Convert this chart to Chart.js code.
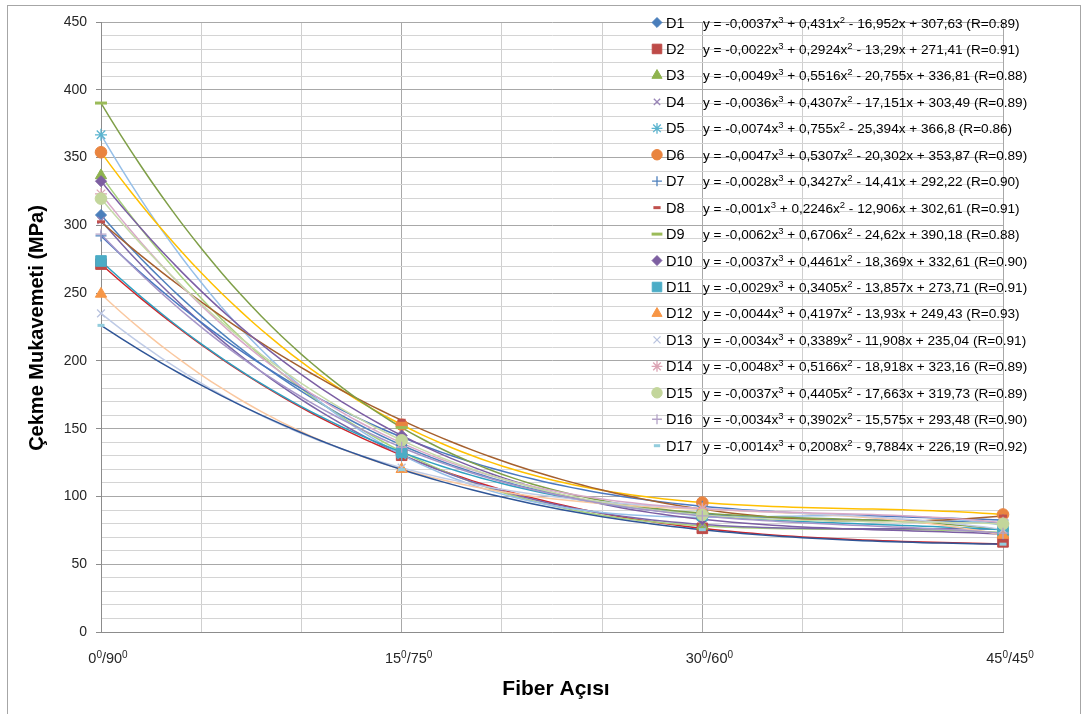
<!DOCTYPE html>
<html>
<head>
<meta charset="utf-8">
<script src="https://cdn.jsdelivr.net/npm/chart.js@4.4.1/dist/chart.umd.min.js"></script>
<style>
  html, body { margin: 0; padding: 0; background: #ffffff; }
  #wrap { width: 1086px; height: 714px; position: relative; }
</style>
</head>
<body>
<div id="wrap"><canvas id="chart" width="1086" height="714"></canvas></div>
<script>
// Fiber angle positions and their axis labels
const angles = [0, 15, 30, 45];
const angleLabels = ['0⁰/90⁰', '15⁰/75⁰', '30⁰/60⁰', '45⁰/45⁰'];
const seriesNames = ['D1','D2','D3','D4','D5','D6','D7','D8','D9','D10','D11','D12','D13','D14','D15','D16','D17'];

// Tensile strength (MPa) measured at each fiber angle
const D1  = [307.6, 137.8, 87.1, 80.4];
const D2  = [271.4, 130.4, 76.5, 66.5];
const D3  = [336.8, 133.1, 78.3, 73.3];
const D4  = [303.5, 131.0, 79.4, 75.8];
const D5  = [366.8, 130.8, 84.7, 78.6];
const D6  = [353.9, 152.9, 95.5, 86.7];
const D7  = [292.2, 143.7, 92.8, 82.6];
const D8  = [302.6, 156.2, 90.6, 85.5];
const D9  = [390.2, 150.8, 87.7, 75.3];
const D10 = [332.6, 145.0, 83.1, 72.2];
const D11 = [273.7, 132.7, 86.2, 75.4];
const D12 = [249.4, 120.1, 90.5, 71.5];
const D13 = [235.0, 121.2, 91.0, 75.6];
const D14 = [323.2, 139.4, 91.0, 80.6];
const D15 = [319.7, 141.4, 86.4, 79.8];
const D16 = [293.5, 136.2, 85.6, 72.9];
const D17 = [226.2, 119.8, 75.5, 64.8];
const seriesValues = [D1, D2, D3, D4, D5, D6, D7, D8, D9, D10, D11, D12, D13, D14, D15, D16, D17];

// Cubic trend line coefficients: y = a3*x^3 + a2*x^2 + a1*x + a0
const fitA3 = [-0.0037, -0.0022, -0.0049, -0.0036, -0.0074, -0.0047, -0.0028, -0.001, -0.0062, -0.0037, -0.0029, -0.0044, -0.0034, -0.0048, -0.0037, -0.0034, -0.0014];
const fitA2 = [0.431, 0.2924, 0.5516, 0.4307, 0.755, 0.5307, 0.3427, 0.2246, 0.6706, 0.4461, 0.3405, 0.4197, 0.3389, 0.5166, 0.4405, 0.3902, 0.2008];
const fitA1 = [-16.952, -13.29, -20.755, -17.151, -25.394, -20.302, -14.41, -12.906, -24.62, -18.369, -13.857, -13.93, -11.908, -18.918, -17.663, -15.575, -9.7884];
const fitA0 = [307.63, 271.41, 336.81, 303.49, 366.8, 353.87, 292.22, 302.61, 390.18, 332.61, 273.71, 249.43, 235.04, 323.16, 319.73, 293.48, 226.19];
const fitR  = ['0.89','0.91','0.88','0.89','0.86','0.89','0.90','0.91','0.88','0.90','0.91','0.93','0.91','0.89','0.89','0.90','0.92'];

// Marker appearance per series
const markerStyles = ['rectRot','rect','triangle','crossRot','star','circle','cross','line','line','rectRot','rect','triangle','crossRot','star','circle','cross','line'];
const markerSizes  = [5.5, 7.5, 6.5, 5, 6, 5.8, 5.5, 4, 6, 5.5, 7.5, 6.5, 5.5, 6, 5.8, 5.5, 3.5];
const markerWidths = [1, 1, 1, 1.3, 1.3, 1, 1.3, 3, 3, 1, 1, 1, 1.3, 1.3, 1, 1.3, 3];
const markerColors = ['#4a7ebb','#be4b48','#8fb34f','#9a86b8','#5ab4cf','#e9843f','#4f81bd','#c0504d','#9bbb59','#7d5fa1','#4bacc6','#f79646','#b9c3df','#dca4b4','#c3d69b','#b3a2c7','#93cddd'];
const trendColors  = ['#4f81bd','#d0252a','#a6d07a','#7a66a8','#96bfe8','#ffc000','#4a78c0','#a5602e','#7f9f48','#7b5ea3','#2fa0c0','#fac8a0','#bfcbe6','#d8a8c8','#c5d9a8','#a595c8','#2f5597'];

const FONT = "'Liberation Sans', Arial, sans-serif";

function fmtNum(v) { return String(v).replace('.', ','); }
function equationText(i) {
  const a1 = fitA1[i];
  return 'y = ' + fmtNum(fitA3[i]) + 'x³ + ' + fmtNum(fitA2[i]) + 'x² ' +
         (a1 < 0 ? '- ' : '+ ') + fmtNum(Math.abs(a1)) + 'x + ' + fmtNum(fitA0[i]) +
         ' (R=' + fitR[i] + ')';
}

// Text with superscript digits drawn as small raised glyphs
const SUP = { '⁰': '0', '¹': '1', '²': '2', '³': '3' };
function richParts(str) {
  const parts = [];
  for (const ch of str) {
    const sup = ch in SUP;
    const t = sup ? SUP[ch] : ch;
    const last = parts[parts.length - 1];
    if (last && last.sup === sup) last.text += t; else parts.push({ text: t, sup: sup });
  }
  return parts;
}
function drawRich(ctx, str, x, y, opt) {
  const parts = richParts(str);
  const fNorm = (opt.weight || '') + ' ' + opt.size + 'px ' + FONT;
  const fSup = (opt.weight || '') + ' ' + opt.supSize + 'px ' + FONT;
  let total = 0;
  parts.forEach(p => { ctx.font = p.sup ? fSup : fNorm; p.w = ctx.measureText(p.text).width; total += p.w; });
  let cx = opt.align === 'center' ? x - total / 2 : x;
  ctx.textAlign = 'left';
  ctx.textBaseline = 'alphabetic';
  parts.forEach(p => {
    ctx.font = p.sup ? fSup : fNorm;
    ctx.fillText(p.text, cx, p.sup ? y - opt.rise : y);
    cx += p.w;
  });
}

// Trend line samples along the fiber angle axis
function trendPoints(i) {
  const pts = [];
  for (let x = 0; x <= 45.0001; x += 0.5) {
    pts.push({ x: x, y: ((fitA3[i] * x + fitA2[i]) * x + fitA1[i]) * x + fitA0[i] });
  }
  return pts;
}

const datasets = [];
seriesNames.forEach((name, i) => {
  datasets.push({
    label: name,
    data: angles.map((a, k) => ({ x: a, y: seriesValues[i][k] })),
    showLine: false,
    clip: false,
    pointStyle: markerStyles[i],
    pointRadius: markerSizes[i],
    pointHoverRadius: markerSizes[i],
    pointBorderWidth: markerWidths[i],
    pointBackgroundColor: markerColors[i],
    pointBorderColor: markerColors[i],
    order: -i
  });
});
seriesNames.forEach((name, i) => {
  datasets.push({
    label: name + ' trend',
    data: trendPoints(i),
    showLine: true,
    borderColor: trendColors[i],
    borderWidth: 1.5,
    pointRadius: 0,
    fill: false,
    order: 100 - i
  });
});

function drawMarker(ctx, i, x, y) {
  ctx.save();
  ctx.fillStyle = markerColors[i];
  ctx.strokeStyle = markerColors[i];
  ctx.lineWidth = markerWidths[i];
  Chart.helpers.drawPoint(ctx, {
    pointStyle: markerStyles[i],
    radius: markerSizes[i] * 0.9,
    rotation: 0,
    borderWidth: markerWidths[i]
  }, x, y);
  ctx.restore();
}

const decor = {
  id: 'decor',
  beforeDraw(chart) {
    const ctx = chart.ctx;
    ctx.save();
    ctx.fillStyle = '#ffffff';
    ctx.fillRect(0, 0, chart.width, chart.height);
    ctx.strokeStyle = '#a6a6a6';
    ctx.lineWidth = 1;
    ctx.strokeRect(7.5, 5.5, 1073, 712);
    ctx.restore();
  },
  afterDraw(chart) {
    const ctx = chart.ctx;
    const xs = chart.scales.x;

    // fiber angle tick labels
    ctx.save();
    ctx.fillStyle = '#262626';
    angles.forEach((a, k) => {
      drawRich(ctx, angleLabels[k], xs.getPixelForValue(a) + 7, 663,
        { size: 14.5, supSize: 10, rise: 5, align: 'center' });
    });
    ctx.restore();

    // axis titles
    ctx.save();
    ctx.fillStyle = '#000000';
    ctx.textAlign = 'center';
    ctx.textBaseline = 'middle';
    ctx.font = 'bold 21px ' + FONT;
    ctx.fillText('Fiber Açısı', 556, 689);
    ctx.font = 'bold 20px ' + FONT;
    ctx.translate(37, 328);
    ctx.rotate(-Math.PI / 2);
    ctx.fillText('Çekme Mukavemeti (MPa)', 0, 0);
    ctx.restore();

    // legend with the trend line equations
    ctx.save();
    seriesNames.forEach((name, i) => {
      const y = 22.5 + i * 26.45;
      drawMarker(ctx, i, 657, y);
      ctx.fillStyle = '#000000';
      ctx.textAlign = 'left';
      ctx.textBaseline = 'middle';
      ctx.font = '14.5px ' + FONT;
      ctx.fillText(name, 666, y + 1);
      drawRich(ctx, equationText(i), 703, y + 5,
        { size: 13.6, supSize: 9.5, rise: 5, align: 'left' });
    });
    ctx.restore();
  }
};

new Chart(document.getElementById('chart'), {
  type: 'scatter',
  data: { datasets: datasets },
  options: {
    responsive: false,
    animation: false,
    events: [],
    layout: { padding: { left: 0, right: 83, top: 22, bottom: 0 } },
    plugins: { legend: { display: false }, tooltip: { enabled: false } },
    scales: {
      x: {
        type: 'linear',
        min: 0, max: 45,
        afterFit: (s) => { s.height = 82; },
        ticks: {
          stepSize: 5,
          autoSkip: false,
          maxRotation: 0,
          callback: () => ''
        },
        grid: {
          drawTicks: false,
          color: (c) => (c.tick && c.tick.value % 15 === 0 && c.tick.value !== 0 ? '#a8a8a8' : '#cfcfcf'),
          lineWidth: 1
        },
        border: { color: '#8c8c8c', width: 1 }
      },
      y: {
        type: 'linear',
        min: 0, max: 450,
        afterFit: (s) => { s.width = 101; },
        ticks: {
          stepSize: 10,
          autoSkip: false,
          padding: 9,
          color: '#262626',
          font: { family: FONT, size: 14 },
          callback: (v) => (v % 50 === 0 ? String(v) : '')
        },
        grid: {
          drawTicks: true,
          tickLength: 5,
          tickColor: (c) => (c.tick && c.tick.value % 50 === 0 ? '#8c8c8c' : 'rgba(0,0,0,0)'),
          color: (c) => (c.tick && c.tick.value % 50 === 0 ? '#a8a8a8' : '#d4d4d4'),
          lineWidth: 1
        },
        border: { color: '#8c8c8c', width: 1 }
      }
    }
  },
  plugins: [decor]
});
</script>
</body>
</html>
